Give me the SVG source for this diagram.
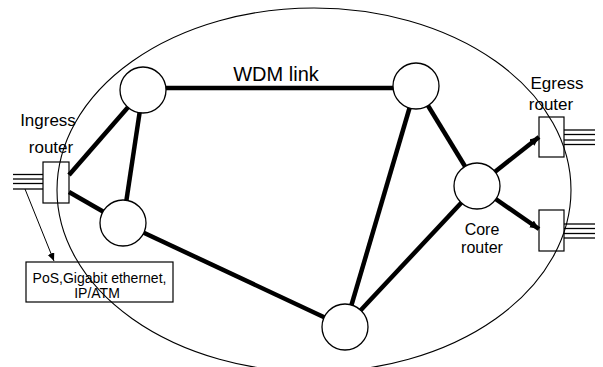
<svg xmlns="http://www.w3.org/2000/svg" width="603" height="367" viewBox="0 0 603 367">
<style>
.bg{fill:#fff}
.ell{fill:none;stroke:#000;stroke-width:1.1}
.link{stroke:#000;stroke-width:4.5;fill:none}
.node{fill:#fff;stroke:#000;stroke-width:1.3}
.box{fill:none;stroke:#000;stroke-width:1.2}
.port{stroke:#000;stroke-width:1.3}
.thin{stroke:#000;stroke-width:1;fill:none}
text{font-family:"Liberation Sans",Arial,sans-serif;fill:#000}
</style>
<defs>
<marker id="ah" markerUnits="userSpaceOnUse" markerWidth="10" markerHeight="10" refX="9" refY="4" orient="auto">
<path d="M0,0 L9,4 L0,8 Z" fill="#000"/>
</marker>
<marker id="ph" markerUnits="userSpaceOnUse" markerWidth="10" markerHeight="10" refX="8" refY="3.5" orient="auto">
<path d="M0,0 L8,3.5 L0,7 Z" fill="#000"/>
</marker>
</defs>
<rect class="bg" width="603" height="367"/>
<ellipse id="network" class="ell" cx="314" cy="190" rx="257" ry="182"/>
<g id="connectors">
<line class="link" x1="143" y1="88" x2="416" y2="88"/>
<line class="link" x1="69" y1="175" x2="143" y2="90"/>
<line class="link" x1="143" y1="90" x2="123" y2="223"/>
<line class="link" x1="69" y1="192" x2="123" y2="223"/>
<line class="link" x1="123" y1="223" x2="345" y2="327"/>
<line class="link" x1="416" y1="86" x2="345" y2="327"/>
<line class="link" x1="416" y1="86" x2="477" y2="186"/>
<line class="link" x1="477" y1="186" x2="345" y2="327"/>
<line class="link" x1="477" y1="186" x2="539" y2="137" marker-end="url(#ah)"/>
<line class="link" x1="477" y1="186" x2="539" y2="229" marker-end="url(#ah)"/>
<line class="thin" x1="25" y1="189" x2="54" y2="261" marker-end="url(#ph)"/>
</g>
<g id="node-a"><circle class="node" cx="143" cy="90" r="23"/></g>
<g id="node-b"><circle class="node" cx="416" cy="86" r="23"/></g>
<g id="node-c"><circle class="node" cx="123" cy="223" r="23"/></g>
<g id="node-d"><circle class="node" cx="345" cy="327" r="23"/></g>
<g id="core-router">
<circle class="node" cx="477" cy="186" r="23"/>
<text x="482" y="235" font-size="16" text-anchor="middle">Core</text>
<text x="482" y="253" font-size="16" text-anchor="middle">router</text>
</g>
<g id="ingress-router">
<rect class="box" x="43" y="162" width="26" height="41"/>
<line class="port" x1="13" y1="174.5" x2="43" y2="174.5"/>
<line class="port" x1="13" y1="179" x2="43" y2="179"/>
<line class="port" x1="13" y1="183.5" x2="43" y2="183.5"/>
<line class="port" x1="13" y1="189" x2="43" y2="189"/>
<text x="48" y="126" font-size="17" text-anchor="middle">Ingress</text>
<text x="51" y="153" font-size="17" text-anchor="middle">router</text>
</g>
<g id="egress-router-1">
<rect class="box" x="539" y="117" width="25" height="40"/>
<line class="port" x1="564" y1="130" x2="595" y2="130"/>
<line class="port" x1="564" y1="134.5" x2="595" y2="134.5"/>
<line class="port" x1="564" y1="140" x2="595" y2="140"/>
<line class="port" x1="564" y1="144.5" x2="595" y2="144.5"/>
<text x="557" y="89" font-size="17" text-anchor="middle">Egress</text>
<text x="551" y="110" font-size="17" text-anchor="middle">router</text>
</g>
<g id="egress-router-2">
<rect class="box" x="539" y="210" width="25" height="41"/>
<line class="port" x1="564" y1="224" x2="595" y2="224"/>
<line class="port" x1="564" y1="228.5" x2="595" y2="228.5"/>
<line class="port" x1="564" y1="233.5" x2="595" y2="233.5"/>
<line class="port" x1="564" y1="238" x2="595" y2="238"/>
</g>
<g id="wdm-label">
<text x="276" y="81" font-size="20" text-anchor="middle">WDM link</text>
</g>
<g id="interface-note">
<rect class="box" x="26" y="262" width="147" height="40"/>
<text x="99.5" y="283" font-size="14" text-anchor="middle">PoS,Gigabit ethernet,</text>
<text x="97" y="298" font-size="14" text-anchor="middle">IP/ATM</text>
</g>
</svg>
